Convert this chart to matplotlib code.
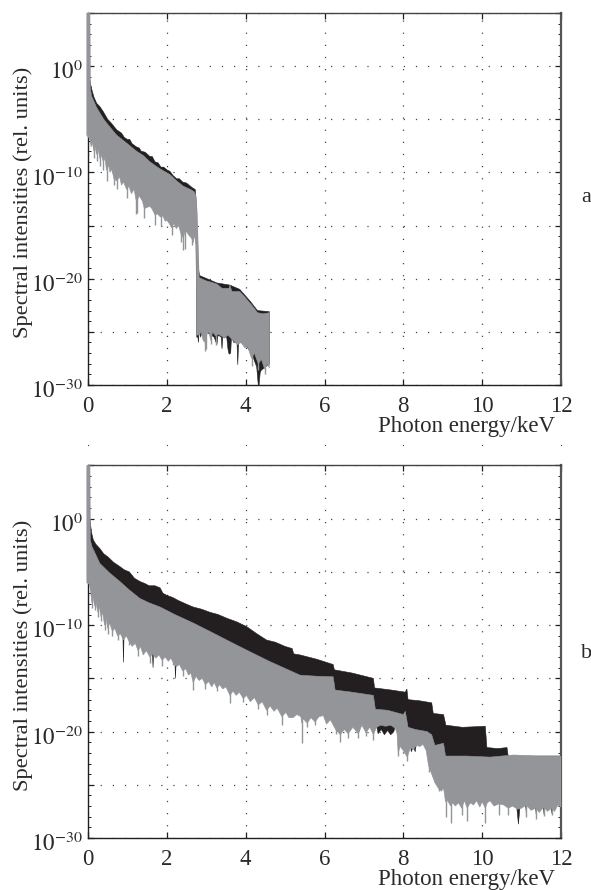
import matplotlib
matplotlib.use("Agg")
import matplotlib.pyplot as plt
import numpy as np
from matplotlib.ticker import FixedLocator, NullFormatter
from matplotlib.transforms import ScaledTranslation

plt.rcParams["font.family"] = ["Liberation Serif", "DejaVu Serif"]
plt.rcParams["mathtext.fontset"] = "stix"

BLACK = "#231f20"
GRAY = "#939598"

X_TICKS = [0, 2, 4, 6, 8, 10, 12]
Y_LABELED = [0, -10, -20, -30]
X_LABEL = "Photon energy/keV"
Y_LABEL = "Spectral intensities (rel. units)"

# all intensities are stored as log10 values

# panel a
a_black_up_x = [0.0, 0.03, 0.09, 0.15, 0.22, 0.30, 0.39, 0.50, 0.60, 0.73,
                0.85, 0.92, 1.00, 1.06, 1.12, 1.23, 1.30, 1.35, 1.45, 1.57,
                1.63, 1.70, 1.78, 1.85, 1.92, 2.00, 2.08, 2.16, 2.25, 2.32,
                2.40, 2.50, 2.60, 2.67, 2.72, 2.74, 2.80, 2.83, 3.27, 3.60,
                3.85, 4.11, 4.30, 4.60]
a_black_up = [0.0, -1.0, -2.1, -2.9, -3.5, -3.8, -4.3, -5.0, -5.4, -6.0,
              -6.3, -6.7, -6.9, -6.9, -7.3, -7.6, -7.7, -8.0, -8.1, -8.5,
              -8.5, -9.0, -9.1, -9.5, -9.5, -9.75, -9.9, -10.3, -10.6, -10.6,
              -10.9, -11.0, -11.3, -11.5, -11.6, -12.5, -19.0, -19.7, -20.4, -20.6,
              -21.0, -22.1, -23.0, -23.1]
a_black_low_x = [0.0, 1.0, 2.0, 2.74, 2.76, 2.79, 2.80, 2.82, 2.86, 2.88,
                 2.90, 3.00, 3.20, 3.27, 3.30, 3.38, 3.40, 3.42, 3.52, 3.55,
                 3.58, 3.62, 3.64, 3.70, 3.78, 3.80, 3.82, 3.95, 4.15, 4.28,
                 4.32, 4.34, 4.37, 4.40, 4.60]
a_black_low = [-6.0, -11.0, -14.0, -15.5, -25.5, -25.5, -26.0, -25.0, -25.5, -25.0,
               -25.4, -25.0, -25.5, -26.2, -25.3, -25.5, -26.6, -25.5, -25.5, -26.6,
               -27.1, -27.0, -25.5, -26.0, -26.0, -28.1, -26.0, -26.0, -27.0, -28.3,
               -30.0, -30.0, -28.8, -28.6, -28.0]
a_gray_up_x = [-0.03, 0.05, 0.06, 0.09, 0.22, 0.40, 0.55, 0.73, 1.00, 1.23,
               1.40, 1.57, 1.80, 2.08, 2.25, 2.42, 2.60, 2.69, 2.74, 2.77,
               2.82, 3.00, 3.10, 3.27, 3.40, 3.58, 3.60, 3.65, 3.85, 3.95,
               4.11, 4.20, 4.30, 4.45, 4.60]
a_gray_up = [5.0, 5.0, -2.0, -2.8, -3.9, -5.0, -5.7, -6.5, -7.3, -8.0,
             -8.4, -9.0, -9.6, -10.2, -10.8, -11.3, -11.6, -11.8, -12.2, -13.8,
             -19.9, -20.2, -20.3, -20.5, -20.9, -20.9, -20.6, -21.2, -21.2, -21.6,
             -22.3, -22.7, -23.2, -23.3, -23.2]
a_gray_low_x = [-0.03, 0.03, 0.05, 0.08, 0.11, 0.15, 0.18, 0.22, 0.26, 0.30,
                0.34, 0.39, 0.43, 0.47, 0.52, 0.56, 0.60, 0.66, 0.73, 0.80,
                0.85, 0.90, 0.98, 1.04, 1.10, 1.17, 1.23, 1.30, 1.38, 1.43,
                1.49, 1.57, 1.62, 1.70, 1.76, 1.84, 1.90, 1.96, 2.00, 2.06,
                2.12, 2.18, 2.24, 2.30, 2.36, 2.42, 2.47, 2.52, 2.58, 2.63,
                2.67, 2.70, 2.74, 2.76, 2.80, 2.84, 2.87, 2.92, 2.97, 3.02,
                3.07, 3.11, 3.16, 3.24, 3.30, 3.39, 3.46, 3.55, 3.60, 3.68,
                3.79, 3.88, 3.98, 4.05, 4.15, 4.22, 4.32, 4.40, 4.48, 4.55,
                4.60]
a_gray_low = [-6.5, -6.8, -6.95, -7.6, -7.2, -8.0, -7.6, -8.3, -7.8, -8.7,
              -8.4, -9.0, -8.7, -9.8, -9.3, -10.0, -9.7, -10.6, -10.8, -10.4,
              -11.2, -10.9, -11.6, -11.3, -12.0, -11.6, -12.8, -12.2, -12.7, -13.4,
              -13.3, -13.2, -13.4, -14.0, -13.9, -14.2, -14.1, -14.6, -14.5, -14.8,
              -15.2, -14.8, -15.3, -15.0, -15.8, -16.2, -15.4, -15.7, -16.0, -16.2,
              -16.6, -15.9, -16.8, -25.3, -25.3, -25.2, -25.0, -25.8, -26.0, -25.2,
              -25.0, -25.8, -25.0, -25.4, -25.2, -25.4, -25.6, -25.3, -25.5, -25.8,
              -26.2, -26.0, -26.5, -26.4, -27.5, -27.0, -28.0, -27.6, -28.5, -28.0,
              -28.4]
a_spike_x = [0.15, 0.22, 0.30, 0.39, 0.47, 0.66, 0.73, 0.98, 1.23, 1.25,
             1.43, 1.70, 1.84, 2.12, 2.36, 2.42, 2.45, 2.63, 2.74, 2.97,
             3.00, 3.11, 3.24, 4.15, 4.32, 4.48]
a_spike_low = [-8.6, -8.9, -9.4, -9.8, -10.8, -11.2, -11.6, -12.4, -13.9, -13.8,
               -14.3, -14.9, -15.0, -15.9, -16.5, -17.3, -17.2, -16.8, -17.2, -26.8,
               -26.6, -26.1, -26.2, -28.2, -28.6, -29.0]

# panel b
b_black_up_x = [0.0, 0.05, 0.09, 0.135, 0.20, 0.30, 0.40, 0.51, 0.65, 0.81,
                0.92, 1.05, 1.18, 1.32, 1.45, 1.55, 1.70, 1.83, 1.90, 2.00,
                2.15, 2.30, 2.48, 2.67, 2.88, 3.10, 3.30, 3.52, 3.78, 4.03,
                4.28, 4.53, 4.75, 5.00, 5.18, 5.22, 5.38, 5.80, 6.22, 6.25,
                6.70, 7.24, 7.27, 7.70, 8.05, 8.09, 8.12, 8.40, 8.72, 8.76,
                9.02, 9.08, 9.50, 10.08, 10.12, 10.40, 10.63, 10.66, 12.0]
b_black_up = [0.0, -0.1, -1.3, -2.0, -2.4, -2.8, -3.3, -3.6, -4.1, -4.5,
              -4.8, -5.0, -5.6, -5.9, -6.1, -6.3, -6.3, -6.5, -7.0, -7.2,
              -7.4, -7.7, -8.0, -8.3, -8.5, -8.8, -9.0, -9.35, -9.7, -10.15,
              -10.8, -11.4, -11.6, -12.0, -12.2, -12.7, -12.8, -13.2, -13.7, -14.2,
              -14.5, -15.0, -15.9, -16.1, -16.3, -16.0, -17.0, -17.1, -17.3, -18.3,
              -18.4, -19.4, -19.6, -19.5, -21.5, -21.6, -21.5, -22.3, -22.3]
b_black_low_x = [0.0, 0.88, 0.90, 0.92, 1.63, 1.65, 1.67, 2.20, 2.22, 2.24,
                 4.00, 5.40, 6.80, 6.84, 6.88, 6.92, 7.30, 7.36, 7.44, 7.52,
                 7.60, 7.68, 7.76, 7.82, 8.15, 8.20, 8.26, 8.30, 8.36, 8.60,
                 9.10, 10.60, 10.72, 10.80, 10.88, 10.92, 10.96, 11.10, 11.12, 11.14,
                 11.35, 11.37, 11.39, 11.55, 11.57, 11.59, 11.75, 11.77, 11.79, 12.0]
b_black_low = [-6.0, -10.0, -13.5, -10.0, -12.0, -14.0, -12.0, -13.0, -15.0, -13.0,
               -15.5, -18.0, -18.5, -19.9, -19.9, -18.5, -19.0, -20.2, -19.8, -20.3,
               -19.9, -20.3, -20.0, -19.0, -20.0, -21.9, -21.4, -21.9, -20.5, -20.0,
               -24.0, -26.0, -26.8, -27.0, -27.2, -28.7, -27.0, -26.8, -27.7, -26.8,
               -26.8, -27.8, -26.8, -26.8, -27.8, -26.8, -26.8, -27.7, -26.8, -26.6]
b_gray_up_x = [-0.03, 0.05, 0.06, 0.10, 0.30, 0.55, 0.81, 1.05, 1.32, 1.55,
               1.83, 2.20, 2.67, 3.10, 3.52, 4.00, 4.60, 5.38, 5.80, 6.22,
               6.27, 6.70, 7.24, 7.29, 7.60, 8.00, 8.05, 8.12, 8.30, 8.60,
               8.72, 8.80, 9.02, 9.07, 9.60, 10.20, 10.80, 11.40, 12.0]
b_gray_up = [5.0, 5.0, -2.0, -2.6, -4.2, -5.1, -5.9, -6.7, -7.5, -7.9,
             -8.3, -9.0, -9.8, -10.6, -11.4, -12.3, -13.4, -14.7, -14.8, -14.85,
             -16.1, -16.3, -16.6, -17.9, -18.0, -18.4, -18.1, -19.6, -19.8, -20.0,
             -20.3, -21.3, -21.1, -22.3, -22.3, -22.4, -22.2, -22.3, -22.3]
b_gray_low_x = [-0.03, 0.04, 0.08, 0.10, 0.13, 0.17, 0.20, 0.25, 0.29, 0.33,
                0.37, 0.42, 0.46, 0.50, 0.55, 0.62, 0.68, 0.75, 0.82, 0.90,
                0.97, 1.04, 1.12, 1.20, 1.27, 1.33, 1.40, 1.48, 1.57, 1.64,
                1.72, 1.80, 1.88, 1.96, 2.04, 2.10, 2.16, 2.24, 2.32, 2.40,
                2.48, 2.55, 2.61, 2.67, 2.74, 2.82, 2.90, 2.98, 3.06, 3.14,
                3.20, 3.27, 3.34, 3.42, 3.50, 3.60, 3.68, 3.76, 3.84, 3.94,
                4.02, 4.12, 4.22, 4.32, 4.42, 4.53, 4.62, 4.72, 4.80, 4.92,
                5.02, 5.10, 5.20, 5.30, 5.40, 5.42, 5.46, 5.56, 5.66, 5.76,
                5.86, 5.97, 6.05, 6.15, 6.28, 6.40, 6.50, 6.60, 6.72, 6.86,
                6.95, 7.05, 7.15, 7.24, 7.32, 7.42, 7.55, 7.68, 7.80, 7.84,
                7.87, 7.92, 8.00, 8.10, 8.18, 8.25, 8.33, 8.42, 8.50, 8.58,
                8.64, 8.72, 8.80, 8.90, 8.97, 9.02, 9.07, 9.10, 9.14, 9.20,
                9.25, 9.32, 9.40, 9.48, 9.55, 9.62, 9.70, 9.78, 9.86, 9.94,
                10.00, 10.08, 10.13, 10.20, 10.30, 10.42, 10.55, 10.66, 10.78, 10.90,
                11.00, 11.12, 11.24, 11.36, 11.45, 11.56, 11.66, 11.76, 11.84, 11.92,
                12.0]
b_gray_low = [-6.0, -6.2, -7.3, -7.9, -7.4, -8.2, -7.8, -8.8, -8.3, -9.2,
              -8.8, -10.0, -9.4, -10.3, -9.8, -10.6, -10.3, -11.0, -10.8, -11.4,
              -11.0, -11.5, -12.0, -11.7, -12.4, -12.0, -12.8, -12.4, -13.0, -12.7,
              -13.1, -12.8, -13.3, -13.0, -13.4, -13.1, -13.5, -13.9, -13.7, -14.3,
              -14.1, -14.7, -14.5, -15.4, -14.8, -15.2, -15.0, -15.6, -15.3, -15.8,
              -15.4, -15.9, -15.6, -16.0, -15.8, -16.6, -16.2, -16.6, -16.3, -16.9,
              -16.6, -17.2, -16.8, -17.5, -17.2, -18.0, -17.6, -18.1, -17.8, -18.6,
              -18.2, -18.7, -18.7, -18.4, -18.6, -19.2, -18.8, -19.2, -18.7, -19.1,
              -18.6, -18.5, -19.3, -18.9, -19.8, -20.3, -19.8, -20.2, -19.6, -20.2,
              -19.4, -20.1, -19.6, -20.3, -19.6, -19.4, -19.5, -19.4, -19.7, -20.2,
              -22.0, -21.4, -21.8, -22.4, -21.5, -21.7, -21.3, -21.4, -21.2, -21.8,
              -23.2, -24.0, -24.8, -25.4, -25.6, -25.3, -26.6, -26.4, -26.6, -27.0,
              -26.7, -27.0, -26.7, -27.2, -26.5, -27.2, -26.7, -26.9, -26.5, -27.1,
              -26.6, -27.2, -26.7, -26.5, -27.0, -26.8, -26.9, -27.2, -27.0, -27.3,
              -27.2, -26.9, -27.4, -27.2, -27.6, -27.1, -27.5, -27.2, -27.5, -26.9,
              -27.1]
b_spike_x = [0.10, 0.17, 0.25, 0.33, 0.42, 0.50, 0.62, 0.75, 1.04, 1.27,
             1.57, 1.88, 2.16, 2.40, 2.67, 2.98, 3.27, 3.60, 3.94, 4.32,
             4.53, 4.92, 5.42, 5.56, 5.76, 6.28, 6.40, 6.60, 6.86, 7.05,
             7.24, 7.87, 8.10, 8.64, 8.90, 9.07, 9.20, 9.48, 9.62, 10.08,
             10.42, 10.66, 11.12, 11.36, 11.56, 11.76]
b_spike_low = [-8.4, -8.6, -9.2, -9.6, -10.5, -10.8, -11.0, -11.4, -11.9, -12.9,
               -13.6, -13.8, -13.75, -14.8, -16.1, -16.0, -16.2, -17.3, -17.2, -17.9,
               -18.45, -19.4, -21.1, -19.6, -19.4, -20.2, -21.0, -20.6, -20.6, -20.4,
               -20.8, -22.3, -22.8, -23.8, -25.6, -28.0, -28.6, -27.8, -28.4, -28.6,
               -27.8, -27.8, -28.0, -28.2, -27.9, -27.8]


def draw_band(ax, up_x, up, low_x, low, color):
    xs = np.concatenate([up_x, low_x[::-1]])
    ys = np.power(10.0, np.concatenate([up, low[::-1]]))
    ax.fill(xs, ys, color=color, linewidth=0.4, zorder=3, clip_on=False)


def draw_spikes(ax, spike_x, spike_low, color):
    low = np.array(spike_low)
    ax.vlines(spike_x, np.power(10.0, low), np.power(10.0, low + 3.0), color=color,
              linewidth=1.0, zorder=3)


def style_axes(ax):
    ax.set_yscale("log")
    ax.set_xlim(0, 12)
    ax.set_ylim(1e-30, 1e5)
    ax.set_xticks(X_TICKS)
    ax.set_xticklabels([str(v) for v in X_TICKS])
    major = [10.0 ** k for k in range(-30, 6, 5)]
    minor = [10.0 ** k for k in range(-30, 6)]
    ax.yaxis.set_major_locator(FixedLocator(major))
    ax.yaxis.set_minor_locator(FixedLocator(minor))
    ax.yaxis.set_minor_formatter(NullFormatter())
    labels = []
    for k in range(-30, 6, 5):
        labels.append(f"$10^{{{k}}}$" if k in Y_LABELED else "")
    ax.set_yticklabels(labels)
    ax.tick_params(axis="both", which="major", direction="in", top=True, right=True,
                   length=4, width=0.9, color=BLACK, labelsize=16.5,
                   labelcolor="#2a2a2a")
    ax.tick_params(axis="x", pad=8)
    ax.tick_params(axis="y", pad=4)
    ax.tick_params(axis="y", which="minor", direction="in", left=True, right=True,
                   length=2, width=0.7, color=BLACK)
    # the power labels sit a little below their ticks
    shift = ScaledTranslation(0, -4 / 100, ax.figure.dpi_scale_trans)
    for label in ax.get_yticklabels():
        label.set_transform(label.get_transform() + shift)
    ax.set_ylabel(Y_LABEL, fontsize=16.2, color="#2a2a2a", labelpad=0)
    ax.yaxis.set_label_coords(-0.116, 0.49)
    ax.grid(True, which="major", color="#444444", linewidth=0.9,
            linestyle=(0, (1, 8.7)))
    for side in ["left", "top", "bottom"]:
        ax.spines[side].set_color(BLACK)
        ax.spines[side].set_linewidth(1.0)
    ax.spines["right"].set_color("#555555")
    ax.spines["right"].set_linewidth(1.6)
    ax.spines["top"].set_color("#444444")
    ax.text(0.988, -0.112, X_LABEL, transform=ax.transAxes, ha="right", va="center",
            fontsize=16.5, color="#2a2a2a")


def main():
    fig = plt.figure(figsize=(5.91, 8.90), dpi=100)
    w = 591.0
    h = 890.0
    ax_a = fig.add_axes([88 / w, 1 - 385 / h, 473 / w, 372 / h])
    ax_b = fig.add_axes([88 / w, 1 - 838 / h, 473 / w, 372.5 / h])

    style_axes(ax_a)
    style_axes(ax_b)

    draw_band(ax_a, np.array(a_black_up_x), np.array(a_black_up),
              np.array(a_black_low_x), np.array(a_black_low), BLACK)
    draw_band(ax_a, np.array(a_gray_up_x), np.array(a_gray_up),
              np.array(a_gray_low_x), np.array(a_gray_low), GRAY)
    draw_spikes(ax_a, a_spike_x, a_spike_low, GRAY)
    draw_band(ax_b, np.array(b_black_up_x), np.array(b_black_up),
              np.array(b_black_low_x), np.array(b_black_low), BLACK)
    draw_band(ax_b, np.array(b_gray_up_x), np.array(b_gray_up),
              np.array(b_gray_low_x), np.array(b_gray_low), GRAY)
    draw_spikes(ax_b, b_spike_x, b_spike_low, GRAY)

    ax_a.set_xlim(0, 12)
    ax_a.set_ylim(1e-30, 1e5)
    ax_b.set_xlim(0, 12)
    ax_b.set_ylim(1e-30, 1e5)

    # stray row of grid dots above panel b
    ax_b.plot(X_TICKS, [1.0556] * len(X_TICKS), linestyle="none", marker="s",
              markersize=0.8, markeredgewidth=0, color="#444444", clip_on=False,
              transform=ax_b.get_xaxis_transform())

    fig.text(586 / w, 1 - 197 / h, "a", ha="center", va="center", fontsize=16,
             color="#2a2a2a")
    fig.text(587 / w, 1 - 653 / h, "b", ha="center", va="center", fontsize=16,
             color="#2a2a2a")

    fig.savefig("out.png", dpi=100)


if __name__ == "__main__":
    main()
